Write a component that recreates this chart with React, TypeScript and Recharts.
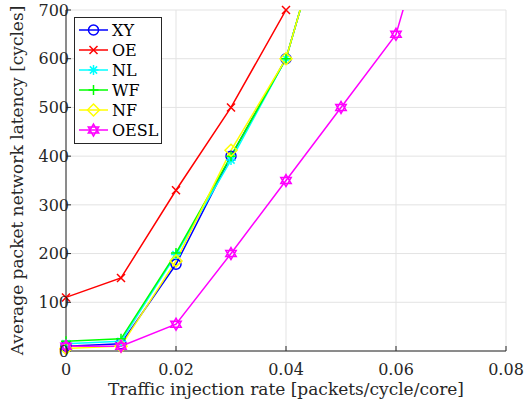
import { LineChart, Line, XAxis, YAxis, CartesianGrid, Legend } from 'recharts'

const rates = [0, 0.01, 0.02, 0.03, 0.04, 0.05, 0.06, 0.07]
const xyLat = [10, 15, 178, 400, 600, 990]
const oeLat = [110, 150, 330, 500, 700, 950]
const nlLat = [15, 20, 198, 392, 600, 990]
const wfLat = [20, 25, 201, 400, 600, 990]
const nfLat = [5, 10, 185, 412, 600, 990]
const oeslLat = [10, 10, 55, 200, 350, 500, 650, 1040]

const xTicks = [0, 0.02, 0.04, 0.06, 0.08]
const yTicks = [0, 100, 200, 300, 400, 500, 600, 700]
const Y_MAX = 700

type Kind = 'circle' | 'x' | 'asterisk' | 'plus' | 'diamond' | 'hexagram'

const series: { key: string; name: string; color: string; kind: Kind; values: number[] }[] = [
  { key: 'xy', name: 'XY', color: '#0000ff', kind: 'circle', values: xyLat },
  { key: 'oe', name: 'OE', color: '#ff0000', kind: 'x', values: oeLat },
  { key: 'nl', name: 'NL', color: '#00ffff', kind: 'asterisk', values: nlLat },
  { key: 'wf', name: 'WF', color: '#00ff00', kind: 'plus', values: wfLat },
  { key: 'nf', name: 'NF', color: '#ffff00', kind: 'diamond', values: nfLat },
  { key: 'oesl', name: 'OESL', color: '#ff00ff', kind: 'hexagram', values: oeslLat },
]

// one row per rate; "<key>M" holds only the in-range points used for markers
const data = rates.map((r, i) => {
  const row: Record<string, number | null> = { rate: r }
  series.forEach((s) => {
    const v = s.values[i]
    row[s.key] = v === undefined ? null : v
    row[s.key + 'M'] = v === undefined || v > Y_MAX ? null : v
  })
  return row
})

const FONT = '"DejaVu Serif", serif'

function markerShape(kind: Kind, cx: number, cy: number, color: string) {
  const sw = 1.5
  if (kind === 'circle') return <circle cx={cx} cy={cy} r={5} fill="none" stroke={color} strokeWidth={sw} />
  if (kind === 'x') {
    const d = 4
    return <path d={`M${cx - d},${cy - d}L${cx + d},${cy + d}M${cx - d},${cy + d}L${cx + d},${cy - d}`} stroke={color} strokeWidth={sw} />
  }
  if (kind === 'plus') {
    const d = 5
    return <path d={`M${cx - d},${cy}L${cx + d},${cy}M${cx},${cy - d}L${cx},${cy + d}`} stroke={color} strokeWidth={sw} />
  }
  if (kind === 'asterisk') {
    const d = 5
    const e = 3.6
    return (
      <path
        d={`M${cx - d},${cy}L${cx + d},${cy}M${cx},${cy - d}L${cx},${cy + d}M${cx - e},${cy - e}L${cx + e},${cy + e}M${cx - e},${cy + e}L${cx + e},${cy - e}`}
        stroke={color}
        strokeWidth={sw}
      />
    )
  }
  if (kind === 'diamond') {
    const d = 6
    return <path d={`M${cx},${cy - d}L${cx + d},${cy}L${cx},${cy + d}L${cx - d},${cy}Z`} fill="none" stroke={color} strokeWidth={sw} />
  }
  const r = 6
  const tri = (start: number) =>
    [0, 1, 2]
      .map((k) => {
        const a = ((start + k * 120) * Math.PI) / 180
        return `${k === 0 ? 'M' : 'L'}${cx + r * Math.cos(a)},${cy + r * Math.sin(a)}`
      })
      .join('') + 'Z'
  return <path d={tri(-90) + tri(90)} fill="none" stroke={color} strokeWidth={sw} />
}

function makeDot(kind: Kind, color: string) {
  return (p: any) => {
    if (p.value == null || p.cx == null || p.cy == null) return <g key={p.key} />
    return <g key={p.key}>{markerShape(kind, p.cx, p.cy, color)}</g>
  }
}

function LegendBox() {
  const rowH = 20
  return (
    <svg width={88} height={127} style={{ display: 'block' }}>
      <rect x={0.5} y={0.5} width={87} height={126} fill="#fff" stroke="#262626" strokeWidth={1} />
      {series.map((s, i) => {
        const cy = 13 + i * rowH
        return (
          <g key={s.key}>
            <line x1={5} x2={34} y1={cy} y2={cy} stroke={s.color} strokeWidth={1.5} />
            {markerShape(s.kind, 19.5, cy, s.color)}
            <text x={38} y={cy + 6} fontFamily={FONT} fontSize={16} fill="#000">
              {s.name}
            </text>
          </g>
        )
      })}
    </svg>
  )
}

export default function App() {
  const tickStyle = { fontFamily: FONT, fontSize: 16, fill: '#262626' }
  const labelStyle = { fontFamily: FONT, fontSize: 17, fill: '#262626' }
  return (
    <div style={{ position: 'absolute', left: 0, top: 0, background: '#fff' }}>
      <LineChart width={524} height={405} data={data} margin={{ top: 10, right: 18, left: 0, bottom: 0 }}>
        <CartesianGrid stroke="#e3e3e3" strokeWidth={1} />
        <XAxis
          dataKey="rate"
          type="number"
          domain={[0, 0.08]}
          ticks={xTicks}
          tickFormatter={(v: number) => (v === 0 ? '0' : String(v))}
          height={54}
          tickSize={-5}
          tickMargin={18}
          stroke="#262626"
          tick={tickStyle}
          label={{ value: 'Traffic injection rate [packets/cycle/core]', position: 'insideBottom', offset: 10, style: labelStyle }}
        />
        <XAxis xAxisId="top" dataKey="rate" type="number" domain={[0, 0.08]} orientation="top" height={0} tick={false} stroke="#262626" />
        <YAxis
          type="number"
          domain={[0, Y_MAX]}
          ticks={yTicks}
          allowDataOverflow
          width={66}
          tickSize={-5}
          tickMargin={2}
          stroke="#262626"
          tick={tickStyle}
          label={{ value: 'Average packet network latency [cycles]', angle: -90, position: 'insideLeft', offset: 17, style: { ...labelStyle, textAnchor: 'middle' } }}
        />
        <YAxis yAxisId="mk" type="number" domain={[0, Y_MAX]} hide />
        <YAxis yAxisId="right" orientation="right" type="number" domain={[0, Y_MAX]} width={0} tick={false} stroke="#262626" />
        <Legend
          layout="vertical"
          align="center"
          verticalAlign="middle"
          wrapperStyle={{ left: 74, top: 17, width: 88, height: 127 }}
          content={() => <LegendBox />}
        />
        {series.flatMap((s) => [
          <Line
            key={s.key}
            dataKey={s.key}
            name={s.name}
            stroke={s.color}
            strokeWidth={1.5}
            dot={false}
            activeDot={false}
            connectNulls={false}
            isAnimationActive={false}
            legendType="none"
          />,
          <Line
            key={s.key + 'M'}
            yAxisId="mk"
            dataKey={s.key + 'M'}
            stroke="none"
            dot={makeDot(s.kind, s.color)}
            activeDot={false}
            isAnimationActive={false}
            legendType="none"
          />,
        ])}
      </LineChart>
    </div>
  )
}
